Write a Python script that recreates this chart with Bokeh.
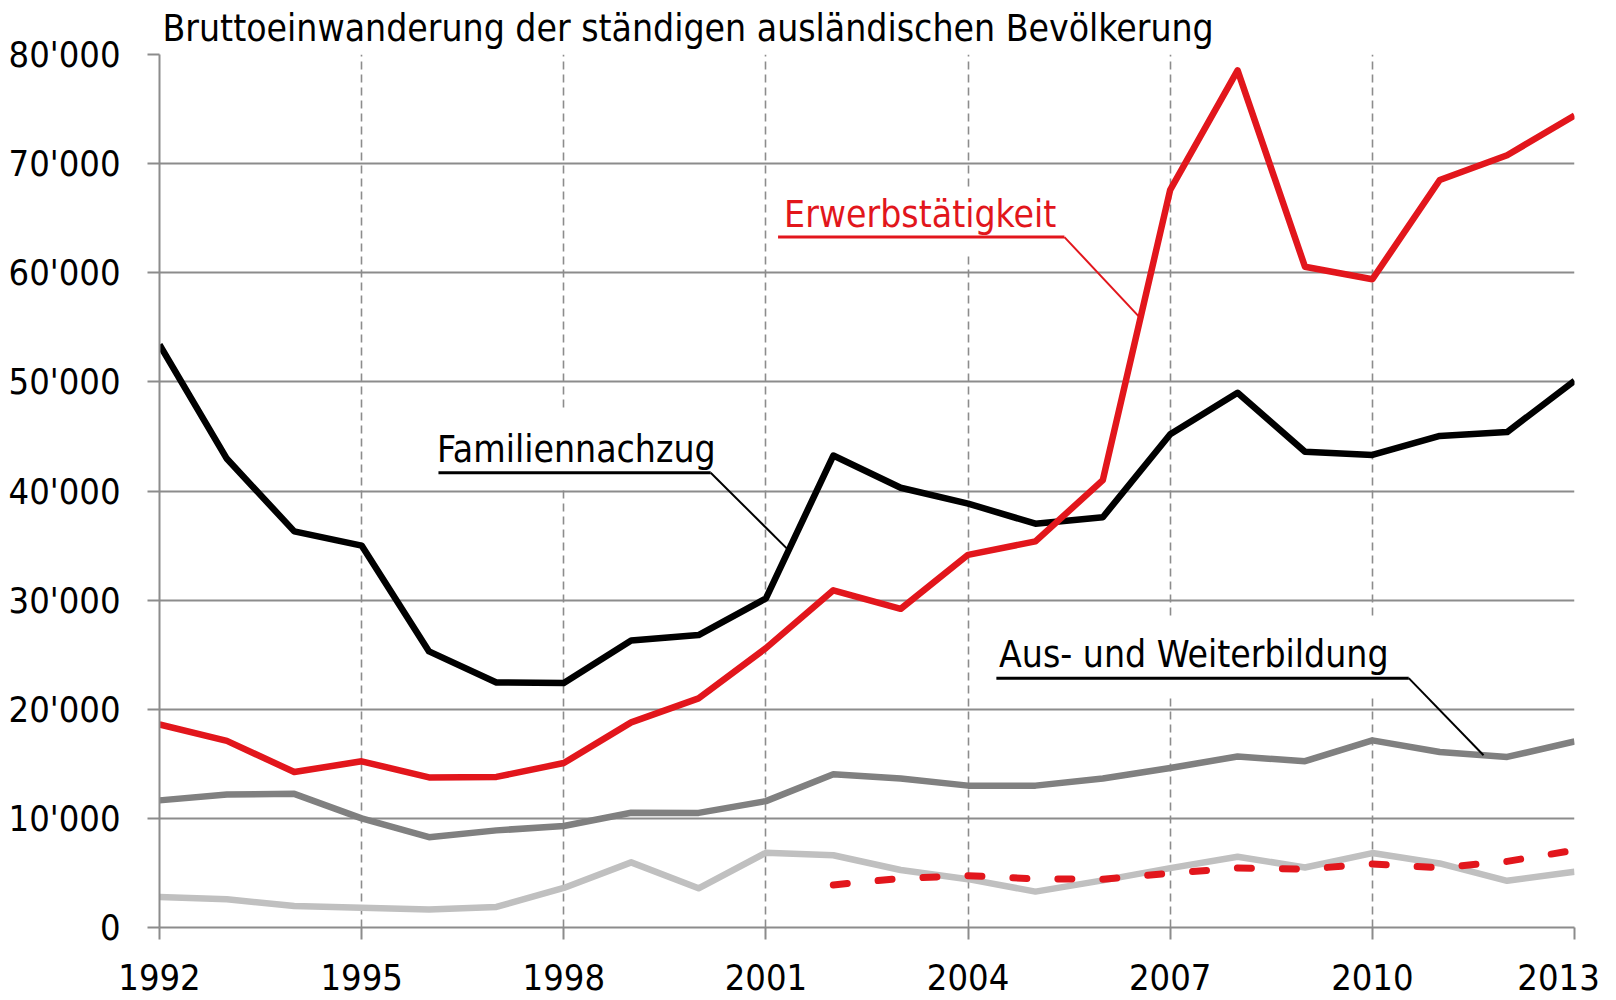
from bokeh.plotting import figure
from bokeh.models import FixedTicker, Range1d
from bokeh.core.properties import value
from bokeh.embed import file_html
from bokeh.resources import INLINE

# ---------------- data ----------------
TITLE = "Bruttoeinwanderung der ständigen ausländischen Bevölkerung"
years = list(range(1992, 2014))
familiennachzug = [53400, 42950, 36300, 35000, 25300, 22450, 22400, 26300, 26800, 30150, 43250,
                   40300, 38850, 37000, 37600, 45200, 49000, 43600, 43300, 45050, 45400, 50100]
erwerbstaetigkeit = [18600, 17100, 14250, 15230, 13750, 13800, 15070, 18800, 21000, 25600, 30900,
                     29200, 34150, 35380, 41000, 67600, 78550, 60550, 59400, 68500, 70770, 74400]
ausbildung = [11650, 12180, 12250, 10000, 8280, 8900, 9300, 10520, 10500, 11580, 14050,
              13650, 13000, 13000, 13650, 14620, 15670, 15240, 17150, 16080, 15630, 17050]
uebrige = [2800, 2580, 1980, 1820, 1650, 1880, 3620, 5970, 3590, 6850, 6620,
           5270, 4430, 3290, 4320, 5440, 6490, 5500, 6820, 5870, 4280, 5110]
years_dashed = list(range(2002, 2014))
erwerb_gestrichelt = [3900, 4500, 4750, 4450, 4430, 4970, 5450, 5360, 5810, 5470, 6060, 7080]

x_ticks = [1992, 1995, 1998, 2001, 2004, 2007, 2010, 2013]
x_tick_labels = ["1992", "1995", "1998", "2001", "2004", "2007", "2010", "2013"]
y_ticks = [0, 10000, 20000, 30000, 40000, 50000, 60000, 70000, 80000]
y_tick_labels = ["0", "10'000", "20'000", "30'000", "40'000", "50'000", "60'000", "70'000", "80'000"]

# label annotations (layout, in data coordinates; y = vertical middle of the text)
labels = [
    dict(text="Erwerbstätigkeit", color="#e2161c", x=2001.27, y=65380,
         ux0=2001.18, ux1=2005.43, uy=63270, ex=2006.54, ey=55960,
         box=(2001.12, 2005.50, 61900, 67600)),
    dict(text="Familiennachzug", color="#000000", x=1996.12, y=43840,
         ux0=1996.14, ux1=2000.18, uy=41680, ex=2001.32, ey=34670,
         box=(1996.03, 2000.26, 40350, 47450)),
    dict(text="Aus- und Weiterbildung", color="#000000", x=2004.46, y=25010,
         ux0=2004.42, ux1=2010.54, uy=22850, ex=2011.65, ey=15780,
         box=(2004.34, 2010.55, 21140, 28490)),
]

FONT = "DejaVu Sans Condensed"
RED = "#e2161c"
GRID = "#8c8c8c"

p = figure(width=1616, height=1000, x_range=Range1d(1992, 2013), y_range=Range1d(0, 80000),
           output_backend="svg", toolbar_location=None,
           min_border_left=159, min_border_right=42, min_border_top=54, min_border_bottom=71)
p.outline_line_color = None
p.background_fill_color = "white"
p.border_fill_color = "white"

p.title.text = TITLE
p.title.text_font = FONT
p.title.text_font_size = "37px"
p.title.text_font_style = "normal"
p.title.text_color = "black"
p.title.align = "left"
p.title.offset = 3
p.title.standoff = 9

# grids
p.xgrid.ticker = FixedTicker(ticks=x_ticks[1:])
p.xgrid.grid_line_color = GRID
p.xgrid.grid_line_width = 1.6
p.xgrid.grid_line_dash = "8 5"
p.ygrid.ticker = FixedTicker(ticks=y_ticks)
p.ygrid.grid_line_color = GRID
p.ygrid.grid_line_width = 2

# axes
for ax in (p.xaxis[0], p.yaxis[0]):
    ax.axis_line_color = GRID
    ax.axis_line_width = 2
    ax.major_tick_line_color = GRID
    ax.major_tick_line_width = 2
    ax.major_tick_out = 12
    ax.major_tick_in = 0
    ax.minor_tick_line_color = None
    ax.major_label_text_font = FONT
    ax.major_label_text_font_size = "36px"
    ax.major_label_text_color = "black"

# the last year label is nudged left (as in the original) with trailing non-breaking spaces
x_label_text = {t: l for t, l in zip(x_ticks, x_tick_labels)}
x_label_text[x_ticks[-1]] = x_tick_labels[-1] + "\u00a0\u2009"
p.xaxis.ticker = FixedTicker(ticks=x_ticks)
p.xaxis.major_label_overrides = x_label_text
p.xaxis.major_label_standoff = 17
p.yaxis.ticker = FixedTicker(ticks=y_ticks)
p.yaxis.major_label_overrides = {t: l for t, l in zip(y_ticks, y_tick_labels)}
p.yaxis.major_label_standoff = 27

# white boxes behind the labels
p.quad(left=[l["box"][0] for l in labels], right=[l["box"][1] for l in labels],
       bottom=[l["box"][2] for l in labels], top=[l["box"][3] for l in labels],
       fill_color="white", line_color=None)

# series
p.line(years, uebrige, line_color="#c0c0c0", line_width=6.5, line_join="round")
p.line(years, ausbildung, line_color="#808080", line_width=6.5, line_join="round")
p.line(years_dashed, erwerb_gestrichelt, line_color=RED, line_width=7, line_dash="14 31",
       line_cap="round", line_join="round")
p.line(years, familiennachzug, line_color="black", line_width=6.5, line_join="round")
p.line(years, erwerbstaetigkeit, line_color=RED, line_width=6.5, line_join="round")

# labels with leader lines
for l in labels:
    p.line([l["ux0"], l["ux1"]], [l["uy"], l["uy"]], line_color=l["color"], line_width=3)
    p.line([l["ux1"], l["ex"]], [l["uy"], l["ey"]], line_color=l["color"], line_width=2)
    p.text(x=[l["x"]], y=[l["y"]], text=[l["text"]], text_color=l["color"],
           text_font=value(FONT), text_font_size="37px", text_baseline="middle",
           text_align="left")

open("out.html", "w").write(file_html(p, INLINE))
